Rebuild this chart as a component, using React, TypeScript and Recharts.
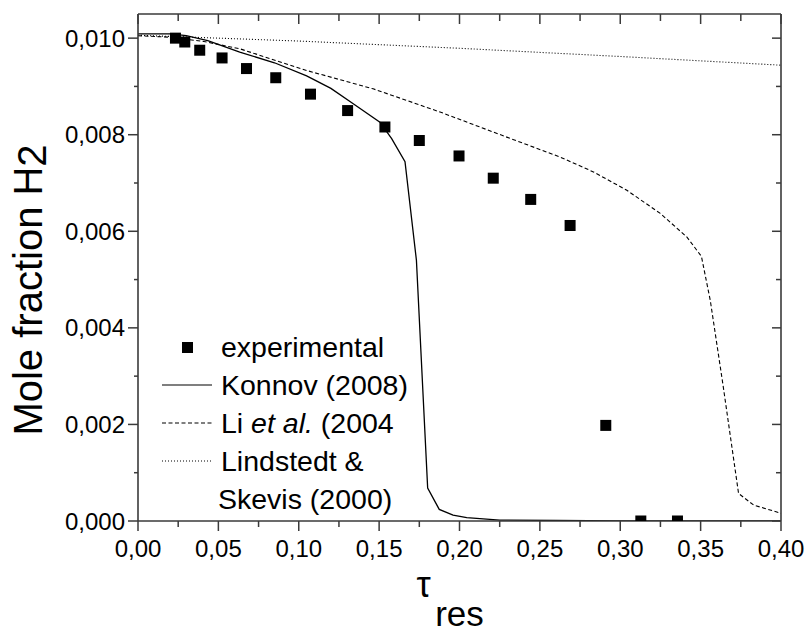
import { ComposedChart, Label, Legend, Line, Scatter, XAxis, YAxis } from "recharts";

const FONT = '"Liberation Sans", Arial, Helvetica, sans-serif';
const AXIS = "#3a3a3a";

// experimental points
const expTau = [0.0233, 0.0291, 0.0384, 0.0523, 0.0675, 0.0857, 0.1073, 0.1304, 0.1536, 0.175, 0.1997, 0.221, 0.2443, 0.2688, 0.291, 0.3128, 0.3356];
const expH2 = [0.01, 0.00992, 0.00975, 0.00959, 0.00937, 0.00918, 0.00884, 0.0085, 0.00816, 0.00788, 0.00756, 0.0071, 0.00666, 0.00612, 0.00198, 0.0, 0.0];

// Konnov (2008)
const konnovTau = [0, 0.02, 0.03, 0.0434, 0.0633, 0.0849, 0.1049, 0.12, 0.1339, 0.1505, 0.1578, 0.1661, 0.1732, 0.1802, 0.1874, 0.196, 0.2045, 0.225, 0.26, 0.3, 0.4];
const konnovH2 = [0.01009, 0.01009, 0.01005, 0.00995, 0.00971, 0.00949, 0.00922, 0.00896, 0.00864, 0.00826, 0.00792, 0.00744, 0.0054, 0.00068, 0.00024, 0.00012, 0.00007, 0.00002, 0.00001, 0.0, 0.0];

// Li et al. (2004)
const liTau = [0, 0.02, 0.041, 0.0633, 0.1049, 0.1463, 0.1879, 0.2294, 0.2624, 0.2833, 0.3041, 0.3249, 0.3415, 0.3505, 0.356, 0.364, 0.3736, 0.383, 0.4];
const liH2 = [0.01005, 0.01002, 0.00993, 0.00978, 0.00933, 0.00895, 0.00847, 0.00795, 0.00754, 0.00723, 0.00685, 0.00637, 0.00588, 0.00548, 0.00457, 0.0028, 0.00057, 0.00033, 0.00016];

// Lindstedt & Skevis (2000)
const lindTau = [0, 0.1, 0.2, 0.3, 0.4];
const lindH2 = [0.01006, 0.00994, 0.00979, 0.00962, 0.00944];

const xTicks = [0, 0.025, 0.05, 0.075, 0.1, 0.125, 0.15, 0.175, 0.2, 0.225, 0.25, 0.275, 0.3, 0.325, 0.35, 0.375, 0.4];
const yTicks = [0, 0.001, 0.002, 0.003, 0.004, 0.005, 0.006, 0.007, 0.008, 0.009, 0.01];

const zip = (xs: number[], ys: number[]) => xs.map((tau, i) => ({ tau, h2: ys[i] }));
const expData = zip(expTau, expH2);
const konnovData = zip(konnovTau, konnovH2);
const liData = zip(liTau, liH2);
const lindData = zip(lindTau, lindH2);

const isMajorX = (v: number) => Math.round(v * 1000) % 50 === 0;
const isMajorY = (v: number) => Math.round(v * 10000) % 20 === 0;
const comma = (v: number, d: number) => v.toFixed(d).replace(".", ",");

function BottomTick({ x, y, payload }: any) {
  const major = isMajorX(payload.value);
  return (
    <g>
      <line x1={x} x2={x} y1={y} y2={y + (major ? 10 : 6)} stroke={AXIS} strokeWidth={1.5} />
      {major && (
        <text x={x} y={y + 36} textAnchor="middle" fontSize={24} fontFamily={FONT} fill="#000">
          {comma(payload.value, 2)}
        </text>
      )}
    </g>
  );
}

function TopTick({ x, y, payload }: any) {
  const major = isMajorX(payload.value);
  return <line x1={x} x2={x} y1={y} y2={y + (major ? 10 : 7)} stroke={AXIS} strokeWidth={1.5} />;
}

function LeftTick({ x, y, payload }: any) {
  const major = isMajorY(payload.value);
  return (
    <g>
      <line x1={x - (major ? 10 : 4)} x2={x} y1={y} y2={y} stroke={AXIS} strokeWidth={1.5} />
      {major && (
        <text x={x - 13} y={y + 8.5} textAnchor="end" fontSize={24} fontFamily={FONT} fill="#000">
          {comma(payload.value, 3)}
        </text>
      )}
    </g>
  );
}

function RightTick({ x, y, payload }: any) {
  const major = isMajorY(payload.value);
  return <line x1={x - (major ? 9 : 5)} x2={x} y1={y} y2={y} stroke={AXIS} strokeWidth={1.5} />;
}

function Square(props: any) {
  const { cx, cy } = props;
  return <rect x={cx - 5.5} y={cy - 5.5} width={11} height={11} fill="#000" />;
}

const rows = [
  { key: "exp", sample: "square", text: <>experimental</> },
  { key: "konnov", sample: "solid", text: <>Konnov (2008)</> },
  { key: "li", sample: "dashed", text: <>Li <i>et al.</i> (2004</> },
  { key: "lind", sample: "dotted", text: <>Lindstedt &amp;</> },
  { key: "skevis", sample: "none", text: <>Skevis (2000)</> },
];

function LegendBox() {
  return (
    <div style={{ position: "absolute", left: 160, top: 328, fontFamily: FONT, fontSize: 28.5, color: "#000" }}>
      {rows.map((r) => (
        <div key={r.key} style={{ display: "flex", alignItems: "center", height: 38, whiteSpace: "nowrap" }}>
          <svg width={54} height={38} style={{ flexShrink: 0, marginRight: r.key === "skevis" ? 4 : 7 }}>
            {r.sample === "square" && <rect x={22} y={14} width={11} height={11} fill="#000" />}
            {r.sample === "solid" && <line x1={2} x2={52} y1={19} y2={19} stroke="#000" strokeWidth={1.2} />}
            {r.sample === "dashed" && <line x1={2} x2={52} y1={19} y2={19} stroke="#000" strokeWidth={1.1} strokeDasharray="4 2.5" />}
            {r.sample === "dotted" && <line x1={2} x2={52} y1={19} y2={19} stroke="#000" strokeWidth={1.1} strokeDasharray="1 2" />}
          </svg>
          <span>{r.text}</span>
        </div>
      ))}
    </div>
  );
}

function XTitle({ viewBox }: any) {
  const cx = viewBox.x + viewBox.width / 2;
  return (
    <g fontFamily={FONT} fill="#000">
      <text x={cx - 36} y={597} textAnchor="middle" fontSize={36}>τ</text>
      <text x={cx} y={626} textAnchor="middle" fontSize={35}>res</text>
    </g>
  );
}

function YTitle() {
  return (
    <text transform="translate(42, 290) rotate(-90)" textAnchor="middle" fontSize={40} fontFamily={FONT} fill="#000">
      Mole fraction H<tspan dy={4}>2</tspan>
    </text>
  );
}

export default function App() {
  return (
    <div style={{ position: "absolute", left: 0, top: 0, background: "#fff" }}>
      <ComposedChart width={807} height={632} margin={{ top: 13, right: 0, bottom: 0, left: 0 }}>
        <XAxis
          dataKey="tau"
          type="number"
          domain={[0, 0.4]}
          ticks={xTicks}
          interval={0}
          allowDataOverflow
          height={111}
          tickSize={0}
          tickMargin={0}
          tick={<BottomTick />}
          axisLine={{ stroke: AXIS, strokeWidth: 1.6 }}
          tickLine={false}
        >
          <Label content={<XTitle />} />
        </XAxis>
        <XAxis
          xAxisId="top"
          orientation="top"
          dataKey="tau"
          type="number"
          domain={[0, 0.4]}
          ticks={xTicks}
          interval={0}
          allowDataOverflow
          height={1}
          tickSize={0}
          tickMargin={0}
          tick={<TopTick />}
          axisLine={{ stroke: AXIS, strokeWidth: 1.6 }}
          tickLine={false}
        />
        <YAxis
          type="number"
          domain={[0, 0.0105]}
          ticks={yTicks}
          interval={0}
          allowDataOverflow
          width={138}
          tickSize={0}
          tickMargin={0}
          tick={<LeftTick />}
          axisLine={{ stroke: AXIS, strokeWidth: 1.6 }}
          tickLine={false}
        >
          <Label content={<YTitle />} />
        </YAxis>
        <YAxis
          yAxisId="right"
          orientation="right"
          type="number"
          domain={[0, 0.0105]}
          ticks={yTicks}
          interval={0}
          allowDataOverflow
          width={26}
          tickSize={0}
          tickMargin={0}
          tick={<RightTick />}
          axisLine={{ stroke: AXIS, strokeWidth: 1.6 }}
          tickLine={false}
        />
        <Line data={lindData} dataKey="h2" type="linear" stroke="#000" strokeWidth={1.1} strokeDasharray="1 2" dot={false} isAnimationActive={false} />
        <Line data={liData} dataKey="h2" type="linear" stroke="#000" strokeWidth={1.1} strokeDasharray="4 2.5" dot={false} isAnimationActive={false} />
        <Line data={konnovData} dataKey="h2" type="linear" stroke="#000" strokeWidth={1.3} dot={false} isAnimationActive={false} />
        <Scatter data={expData} dataKey="h2" shape={<Square />} isAnimationActive={false} />
        <Legend verticalAlign="middle" align="center" layout="horizontal" content={() => <LegendBox />} wrapperStyle={{ left: 0, top: 0, width: 0, height: 0 }} />
      </ComposedChart>
    </div>
  );
}
